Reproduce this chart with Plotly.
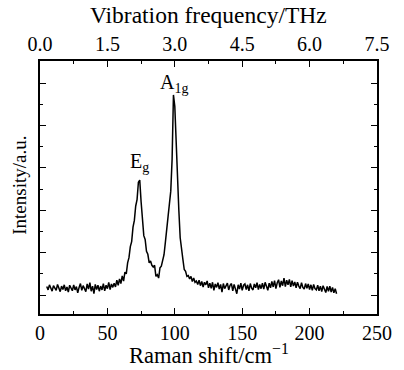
import plotly.graph_objects as go

# Raman shift (cm^-1) sampled every 1 cm^-1 from 5 to 220
raman_shift = list(range(5, 221))
intensity = [
    # 5-14
    0.20, 0.12, 0.24, 0.15, 0.09, 0.22, 0.17, 0.11, 0.25, 0.14,
    # 15-24
    0.08, 0.21, 0.13, 0.24, 0.10, 0.19, 0.07, 0.23, 0.15, 0.10,
    # 25-34
    0.24, 0.12, 0.20, 0.05, 0.18, 0.27, 0.11, 0.22, 0.15, 0.08,
    # 35-44
    0.26, 0.14, 0.29, 0.09, 0.21, 0.03, 0.25, 0.13, 0.23, 0.09,
    # 45-54
    0.21, 0.12, 0.27, 0.10, 0.23, 0.15, 0.30, 0.13, 0.26, 0.18,
    # 55-64
    0.28, 0.19, 0.35, 0.23, 0.38, 0.27, 0.45, 0.33, 0.54, 0.50,
    # 65-74
    0.76, 0.88, 1.14, 1.26, 1.60, 1.76, 2.10, 2.25, 2.66, 2.71,
    # 75-84
    2.20, 1.76, 1.40, 1.31, 1.03, 0.96, 0.76, 0.80, 0.70, 0.66,
    # 85-94
    0.70, 0.44, 0.48, 0.40, 0.64, 0.68, 0.86, 0.95, 1.24, 1.48,
    # 95-104
    1.85, 2.15, 2.45, 3.20, 4.72, 4.45, 3.60, 2.50, 2.00, 1.35,
    # 105-115
    1.00, 0.84, 0.60, 0.56, 0.44, 0.46, 0.38, 0.44, 0.32, 0.40, 0.30,
    # 116-125
    0.33, 0.25, 0.35, 0.22, 0.32, 0.19, 0.30, 0.24, 0.33, 0.17,
    # 126-135
    0.28, 0.16, 0.30, 0.11, 0.26, 0.18, 0.29, 0.14, 0.25, 0.07,
    # 136-145
    0.27, 0.15, 0.24, 0.28, 0.12, 0.23, 0.27, 0.10, 0.25, 0.16,
    # 146-155
    0.03, 0.24, 0.14, 0.28, 0.11, 0.23, 0.26, 0.13, 0.24, 0.10,
    # 156-165
    0.27, 0.16, 0.12, 0.26, 0.17, 0.29, 0.13, 0.25, 0.15, 0.28,
    # 166-175
    0.14, 0.30, 0.18, 0.11, 0.28, 0.17, 0.32, 0.19, 0.34, 0.15,
    # 176-185
    0.29, 0.36, 0.18, 0.33, 0.22, 0.40, 0.20, 0.35, 0.24, 0.37,
    # 186-195
    0.19, 0.34, 0.21, 0.31, 0.17, 0.30, 0.21, 0.15, 0.29, 0.18,
    # 196-205
    0.14, 0.27, 0.16, 0.26, 0.13, 0.24, 0.11, 0.25, 0.15, 0.12,
    # 206-215
    0.23, 0.10, 0.21, 0.08, 0.22, 0.11, 0.06, 0.20, 0.09, 0.21,
    # 216-220
    0.07, 0.18, 0.05, 0.15, 0.03,
]
assert len(raman_shift) == len(intensity)

THZ_PER_CM = 0.03
bottom_ticks = [0, 50, 100, 150, 200, 250]
top_ticks = [0.0, 1.5, 3.0, 4.5, 6.0, 7.5]
top_tick_labels = ["0.0", "1.5", "3.0", "4.5", "6.0", "7.5"]

peak_labels = ["E<sub>g</sub>", "A<sub>1g</sub>"]
peak_pos = [73.8, 99.4]
peak_label_y = [3.12, 5.0]

FONT = "Liberation Serif"

fig = go.Figure()
fig.add_trace(go.Scatter(
    x=raman_shift, y=intensity, mode="lines",
    line=dict(color="black", width=1.5), showlegend=False, hoverinfo="skip",
))
fig.add_trace(go.Scatter(
    x=[v * THZ_PER_CM for v in raman_shift], y=intensity, xaxis="x2",
    mode="lines", line=dict(color="rgba(0,0,0,0)", width=0),
    showlegend=False, hoverinfo="skip",
))

for txt, xp, yp in zip(peak_labels, peak_pos, peak_label_y):
    fig.add_annotation(x=xp, y=yp, xref="x", yref="y", text=txt,
                       showarrow=False, font=dict(family=FONT, size=20, color="black"),
                       xanchor="center", yanchor="middle")

fig.add_annotation(x=0.5, y=-0.158, xref="paper", yref="paper",
                   text="Raman shift/cm<sup>−1</sup>", showarrow=False,
                   font=dict(family=FONT, size=22.5, color="black"),
                   xanchor="center", yanchor="middle")
fig.add_annotation(x=0.5, y=1.18, xref="paper", yref="paper",
                   text="Vibration frequency/THz", showarrow=False,
                   font=dict(family=FONT, size=23.5, color="black"),
                   xanchor="center", yanchor="middle")
fig.add_annotation(x=-0.060, y=0.51, xref="paper", yref="paper",
                   text="Intensity/a.u.", showarrow=False, textangle=-90,
                   font=dict(family=FONT, size=19, color="black"),
                   xanchor="center", yanchor="middle")

axis_common = dict(showgrid=False, zeroline=False, linecolor="black", linewidth=1.6,
                   ticks="inside", tickcolor="black", ticklen=6, tickwidth=1.3)

fig.update_layout(
    width=404, height=370,
    margin=dict(l=40, r=16, t=61, b=56),
    paper_bgcolor="white", plot_bgcolor="white",
    font=dict(family=FONT, size=20, color="black"),
    xaxis=dict(range=[0, 250], tickvals=bottom_ticks, showline=True, mirror=False,
               minor=dict(dtick=25, tick0=0, ticks="inside", ticklen=3.5,
                          tickcolor="black", tickwidth=1.3),
               tickfont=dict(family=FONT, size=20), **axis_common),
    xaxis2=dict(range=[0, 7.5], overlaying="x", side="top", anchor="y",
                tickvals=top_ticks, ticktext=top_tick_labels, showline=True,
                minor=dict(dtick=0.75, tick0=0, ticks="inside", ticklen=3.5,
                           tickcolor="black", tickwidth=1.3),
                tickfont=dict(family=FONT, size=20), **axis_common),
    yaxis=dict(range=[-0.448, 5.52], tick0=0, dtick=1, showticklabels=False,
               showline=True, mirror="ticks",
               minor=dict(dtick=0.5, tick0=0, ticks="inside", ticklen=3.5,
                          tickcolor="black", tickwidth=1.3),
               **axis_common),
)

fig.write_html("out.html")
